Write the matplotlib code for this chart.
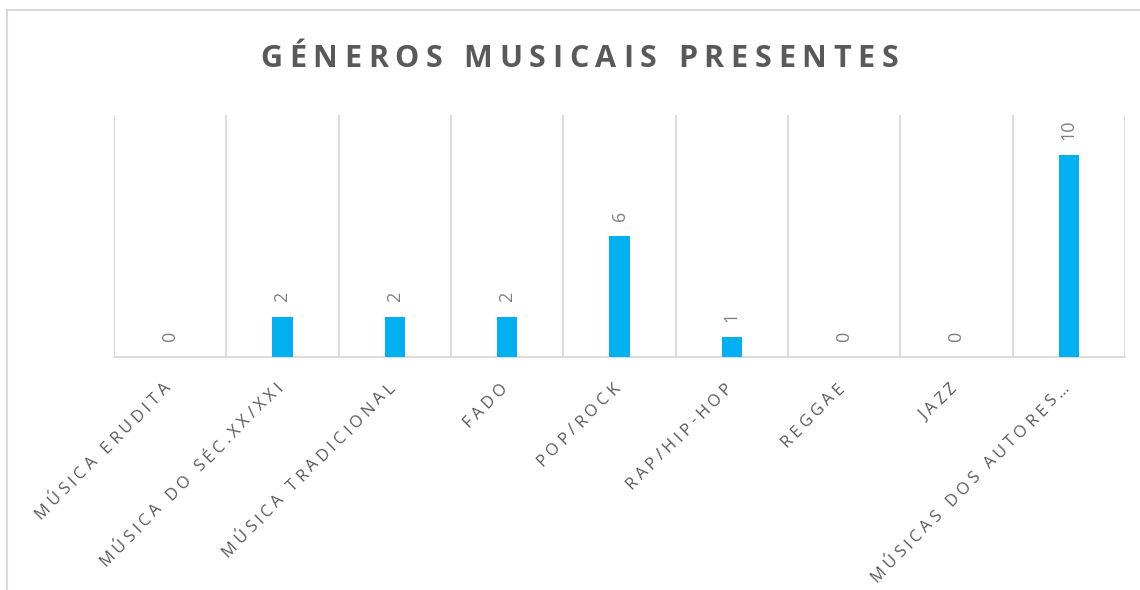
import math
import matplotlib
matplotlib.use('Agg')
import matplotlib.pyplot as plt
from matplotlib.lines import Line2D
from matplotlib.font_manager import FontProperties

plt.rcParams['font.family'] = ['Open Sans', 'DejaVu Sans']

title = 'GÉNEROS MUSICAIS PRESENTES'
categories = ['MÚSICA ERUDITA', 'MÚSICA DO SÉC.XX/XXI', 'MÚSICA TRADICIONAL', 'FADO',
              'POP/ROCK', 'RAP/HIP-HOP', 'REGGAE', 'JAZZ', 'MÚSICAS DOS AUTORES…']
values = [0, 2, 2, 2, 6, 1, 0, 0, 10]

BAR = '#00B0F0'
GRID = '#D9D9D9'
TXT = '#595959'
LBL = '#808080'

W, H = 1140, 590
fig = plt.figure(figsize=(W / 100, H / 100), dpi=100)
ax = fig.add_axes([114 / W, 1 - 357 / H, (1125 - 114) / W, (357 - 115) / H])
renderer = fig.canvas.get_renderer()


def advances(s, prop):
    # advance width of each char in pixels, measured between two H's
    base = renderer.get_text_width_height_descent('HH', prop, ismath=False)[0]
    out = []
    for c in s:
        w = renderer.get_text_width_height_descent('H' + c + 'H', prop, ismath=False)[0]
        out.append(w - base)
    return out


def tracked_text(s, start, angle, prop, track, color):
    # draw s letter by letter from start (display px) along angle with extra spacing
    a = math.radians(angle)
    dx, dy = math.cos(a), math.sin(a)
    pos = 0.0
    for c, adv in zip(s, advances(s, prop)):
        if c != ' ':
            fig.text((start[0] + pos * dx) / W, (start[1] + pos * dy) / H, c,
                     fontproperties=prop, color=color, rotation=angle,
                     rotation_mode='anchor', ha='left', va='baseline')
        pos += adv + track
    return pos - track


def tracked_length(s, prop, track):
    adv = advances(s, prop)
    # last glyph: only its ink counts, not the full advance
    last = renderer.get_text_width_height_descent(s[-1], prop, ismath=False)[0]
    return sum(adv[:-1]) + last + track * (len(s) - 1)


x = list(range(len(categories)))
ax.bar(x, values, width=0.18, color=BAR, zorder=3)
ax.set_xlim(-0.5, len(categories) - 0.5)
ax.set_ylim(0, 12)

# vertical separators between categories
for b in [i - 0.5 for i in range(len(categories) + 1)]:
    ax.axvline(b, color=GRID, lw=1.3, zorder=1)

for s in ['top', 'right', 'left']:
    ax.spines[s].set_visible(False)
ax.spines['bottom'].set_color(GRID)
ax.spines['bottom'].set_linewidth(1.3)
ax.set_yticks([])
ax.set_xticks([])

for xi, v in zip(x, values):
    ax.annotate(str(v), (xi, v), xytext=(0, 15), textcoords='offset pixels',
                rotation=90, ha='center', va='bottom', fontsize=13, color=LBL)

# category labels, rotated 45 deg with letter spacing
lab_prop = FontProperties(family=['Open Sans', 'DejaVu Sans'], size=12)
lab_track = 3.9
for xi, cat in zip(x, categories):
    ex, ey = ax.transData.transform((xi, 0))
    ex, ey = ex + 1, ey - 32
    L = tracked_length(cat, lab_prop, lab_track)
    a = math.radians(45)
    tracked_text(cat, (ex - L * math.cos(a), ey - L * math.sin(a)), 45, lab_prop, lab_track, TXT)

# title
title_prop = FontProperties(family=['Open Sans', 'DejaVu Sans'], size=22, weight='bold')
title_track = 6.7
L = tracked_length(title, title_prop, title_track)
tracked_text(title, (579 - L / 2, H - 67), 0, title_prop, title_track, TXT)

# chart border (only top and left visible)
fig.add_artist(Line2D([7 / W, 7 / W], [0, 1 - 10 / H], color=GRID, lw=1.5,
                      transform=fig.transFigure))
fig.add_artist(Line2D([7 / W, 1], [1 - 10 / H, 1 - 10 / H], color=GRID, lw=1.5,
                      transform=fig.transFigure))

fig.savefig('out.png', dpi=100, facecolor='white')
